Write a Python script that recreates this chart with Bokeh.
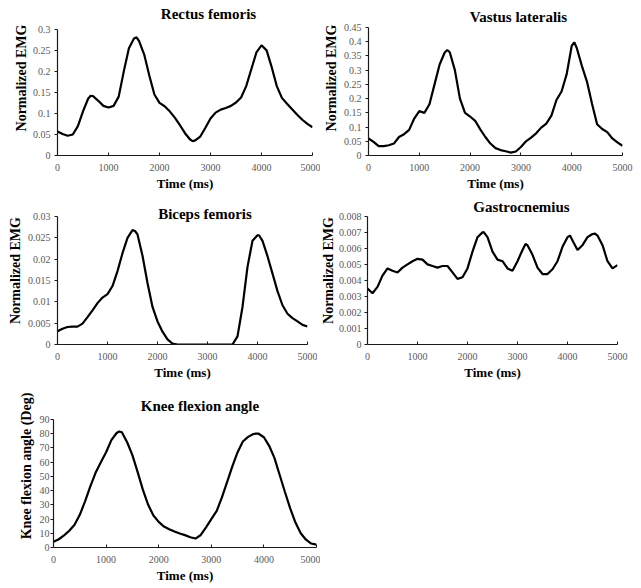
from bokeh.plotting import figure
from bokeh.layouts import column, row
from bokeh.models import Range1d, FixedTicker, Label
from bokeh.embed import file_html
from bokeh.resources import INLINE

# ---------------- data ----------------
time_ms = list(range(0, 5001, 100))

rectus_femoris = [0.057, 0.051, 0.047, 0.050, 0.070, 0.105, 0.135, 0.141, 0.130, 0.118,
                  0.114, 0.118, 0.140, 0.200, 0.255, 0.278, 0.272, 0.240, 0.190, 0.145,
                  0.125, 0.117, 0.105, 0.090, 0.072, 0.053, 0.038, 0.036, 0.045, 0.066,
                  0.088, 0.102, 0.109, 0.113, 0.118, 0.126, 0.138, 0.165, 0.205, 0.245,
                  0.262, 0.250, 0.210, 0.165, 0.137, 0.123, 0.110, 0.097, 0.085, 0.075,
                  0.067]
rectus_extra_t = [650, 1550, 2650]
rectus_extra_v = [0.142, 0.281, 0.034]

vastus_lateralis = [0.060, 0.048, 0.033, 0.033, 0.036, 0.042, 0.065, 0.075, 0.090, 0.130,
                    0.156, 0.150, 0.180, 0.250, 0.320, 0.362, 0.363, 0.300, 0.200, 0.150,
                    0.137, 0.122, 0.092, 0.065, 0.042, 0.026, 0.019, 0.015, 0.010, 0.014,
                    0.030, 0.050, 0.063, 0.078, 0.098, 0.112, 0.140, 0.195, 0.225, 0.285,
                    0.385, 0.378, 0.315, 0.260, 0.182, 0.110, 0.093, 0.082, 0.060, 0.046,
                    0.034]
vastus_extra_t = [1550, 4050]
vastus_extra_v = [0.371, 0.398]

biceps_femoris = [0.0031, 0.0037, 0.0041, 0.0042, 0.0042, 0.0049, 0.0064, 0.0080, 0.0097, 0.0110,
                  0.0118, 0.0137, 0.0172, 0.0214, 0.0250, 0.0268, 0.0258, 0.0208, 0.0144, 0.0088,
                  0.0054, 0.0030, 0.0012, 0.0002, 0.0, 0.0, 0.0, 0.0, 0.0, 0.0,
                  0.0, 0.0, 0.0, 0.0, 0.0, 0.0, 0.0019, 0.0088, 0.0182, 0.0243,
                  0.0256, 0.0243, 0.0207, 0.0166, 0.0125, 0.0092, 0.0072, 0.0062, 0.0054, 0.0046,
                  0.0042]
biceps_extra_t = [1550, 4030]
biceps_extra_v = [0.0266, 0.0256]

gastrocnemius = [0.0035, 0.0032, 0.0036, 0.0043, 0.00475, 0.0046, 0.0045, 0.0048, 0.0050, 0.0052,
                 0.00535, 0.0053, 0.0050, 0.0049, 0.0048, 0.0049, 0.0049, 0.0045, 0.0041, 0.0042,
                 0.00475, 0.0058, 0.0067, 0.0070, 0.0067, 0.0058, 0.0053, 0.0052, 0.00475, 0.0046,
                 0.0052, 0.0059, 0.0062, 0.0056, 0.0048, 0.0044, 0.0044, 0.0047, 0.0052, 0.0061,
                 0.0067, 0.0065, 0.0059, 0.0062, 0.0067, 0.0069, 0.0068, 0.0062, 0.0052, 0.00475,
                 0.00496]
gastro_extra_t = [2320, 3160, 4050, 4550]
gastro_extra_v = [0.00703, 0.00627, 0.0068, 0.00692]

knee_angle = [4.0, 5.8, 8.5, 11.8, 16.0, 23.0, 32.5, 43.0, 52.5, 60.0,
              67.0, 75.5, 80.5, 81.0, 74.0, 65.0, 53.0, 40.5, 30.0, 22.5,
              18.0, 14.7, 12.8, 11.2, 9.8, 8.7, 7.2, 6.3, 8.8, 14.2,
              20.0, 25.5, 35.0, 46.0, 57.0, 67.0, 74.5, 77.8, 79.8, 80.0,
              77.5, 71.5, 63.0, 51.0, 39.0, 27.5, 17.5, 10.0, 5.5, 2.8,
              2.0]
knee_extra_t = [1250, 3850]
knee_extra_v = [81.6, 80.1]

x_ticks = [0, 1000, 2000, 3000, 4000, 5000]

rf_ticks = [0, 0.05, 0.1, 0.15, 0.2, 0.25, 0.3]
rf_labels = ["0", "0.05", "0.1", "0.15", "0.2", "0.25", "0.3"]
vl_ticks = [0, 0.05, 0.1, 0.15, 0.2, 0.25, 0.3, 0.35, 0.4, 0.45]
vl_labels = ["0", "0.05", "0.1", "0.15", "0.2", "0.25", "0.3", "0.35", "0.4", "0.45"]
bf_ticks = [0, 0.005, 0.01, 0.015, 0.02, 0.025, 0.03]
bf_labels = ["0", "0.005", "0.01", "0.015", "0.02", "0.025", "0.03"]
ga_ticks = [0, 0.001, 0.002, 0.003, 0.004, 0.005, 0.006, 0.007, 0.008]
ga_labels = ["0", "0.001", "0.002", "0.003", "0.004", "0.005", "0.006", "0.007", "0.008"]
kn_ticks = [0, 10, 20, 30, 40, 50, 60, 70, 80, 90]
kn_labels = ["0", "10", "20", "30", "40", "50", "60", "70", "80", "90"]

titles = ["Rectus femoris", "Vastus lateralis", "Biceps femoris", "Gastrocnemius", "Knee flexion angle"]
x_label = "Time (ms)"
emg_label = "Normalized EMG"
knee_label = "Knee flexion angle (Deg)"

SERIF = "Liberation Serif"


def merged(base_v, extra_t, extra_v):
    pts = sorted(list(zip(time_ms, base_v)) + list(zip(extra_t, extra_v)))
    return [t for t, _ in pts], [v for _, v in pts]


def panel(series, ticks, labels, title, ylabel, w, h, left, right,
          data_top, data_bottom, title_px, ylab_standoff=4, yax_standoff=2,
          xl_standoff=8, xa_standoff=2):
    """data_top / data_bottom: pixel rows (from figure top) of the axis max and 0.
    The frame starts at the figure top so the title can sit inside it; the
    y axis itself is bounded to [0, max]."""
    xs, ys = series
    ymax = ticks[-1]
    span_px = data_bottom - data_top
    y_end = ymax * data_bottom / span_px
    p = figure(width=w, height=h, x_range=Range1d(0, 5000),
               y_range=Range1d(0, y_end), output_backend="svg", title=None,
               toolbar_location=None, min_border_left=left, min_border_right=right,
               min_border_top=0, min_border_bottom=h - data_bottom)
    p.grid.visible = False
    p.outline_line_color = None
    p.background_fill_color = "white"
    p.border_fill_color = "white"
    p.line(xs, ys, line_color="black", line_width=2.2)

    xa = p.xaxis[0]
    xa.ticker = FixedTicker(ticks=x_ticks)
    xa.major_tick_in = 3
    xa.major_tick_out = 0
    xa.minor_tick_line_color = None
    xa.axis_line_color = "#1a1a1a"
    xa.major_tick_line_color = "#1a1a1a"
    xa.axis_line_width = 1.2
    xa.major_label_text_font = SERIF
    xa.major_label_text_font_size = "10px"
    xa.major_label_text_color = "#595959"
    xa.major_label_standoff = xl_standoff
    xa.axis_label = x_label
    xa.axis_label_text_font = SERIF
    xa.axis_label_text_font_style = "bold"
    xa.axis_label_text_font_size = "13px"
    xa.axis_label_text_color = "black"
    xa.axis_label_standoff = xa_standoff

    ya = p.yaxis[0]
    ya.ticker = FixedTicker(ticks=ticks)
    ya.bounds = (0, ymax)
    ya.major_label_overrides = {t: s for t, s in zip(ticks, labels)}
    ya.major_tick_in = 0
    ya.major_tick_out = 3
    ya.minor_tick_line_color = None
    ya.axis_line_color = "#1a1a1a"
    ya.major_tick_line_color = "#1a1a1a"
    ya.axis_line_width = 1.2
    ya.major_label_text_font = SERIF
    ya.major_label_text_font_size = "10px"
    ya.major_label_text_color = "#595959"
    ya.major_label_standoff = ylab_standoff
    ya.axis_label = ylabel
    ya.axis_label_text_font = SERIF
    ya.axis_label_text_font_style = "bold"
    ya.axis_label_text_font_size = "14px"
    ya.axis_label_text_color = "black"
    ya.axis_label_standoff = yax_standoff

    tx_px, ty_px = title_px
    tx = (tx_px - left) / (w - left - right) * 5000
    ty = ymax * (data_bottom - ty_px) / span_px
    p.add_layout(Label(x=tx, y=ty, text=title, text_font=SERIF,
                       text_font_style="bold", text_font_size="15px",
                       text_align="center", text_baseline="middle",
                       text_color="black"))
    return p


# row 1 : y 0-196, row 2 : y 196-384, row 3 : y 384-586
f1 = panel(merged(rectus_femoris, rectus_extra_t, rectus_extra_v),
           rf_ticks, rf_labels, titles[0], emg_label,
           320, 196, 57, 8, 29, 156, (208, 14), ylab_standoff=4, yax_standoff=1)
f2 = panel(merged(vastus_lateralis, vastus_extra_t, vastus_extra_v),
           vl_ticks, vl_labels, titles[1], emg_label,
           321, 196, 47, 19, 27, 155, (197.5, 16), ylab_standoff=4, yax_standoff=2)
f3 = panel(merged(biceps_femoris, biceps_extra_t, biceps_extra_v),
           bf_ticks, bf_labels, titles[2], emg_label,
           317, 188, 57, 10, 20, 148, (204.5, 17), ylab_standoff=4, yax_standoff=2)
f4 = panel(merged(gastrocnemius, gastro_extra_t, gastro_extra_v),
           ga_ticks, ga_labels, titles[3], emg_label,
           324, 188, 50, 24, 20, 149, (204, 11), ylab_standoff=3, yax_standoff=0)
f5 = panel(merged(knee_angle, knee_extra_t, knee_extra_v),
           kn_ticks, kn_labels, titles[4], knee_label,
           320, 202, 53, 4, 35, 163, (199.5, 21), ylab_standoff=1, yax_standoff=3)

layout = column(row(f1, f2), row(f3, f4), f5)

open("out.html", "w").write(file_html(layout, INLINE))
